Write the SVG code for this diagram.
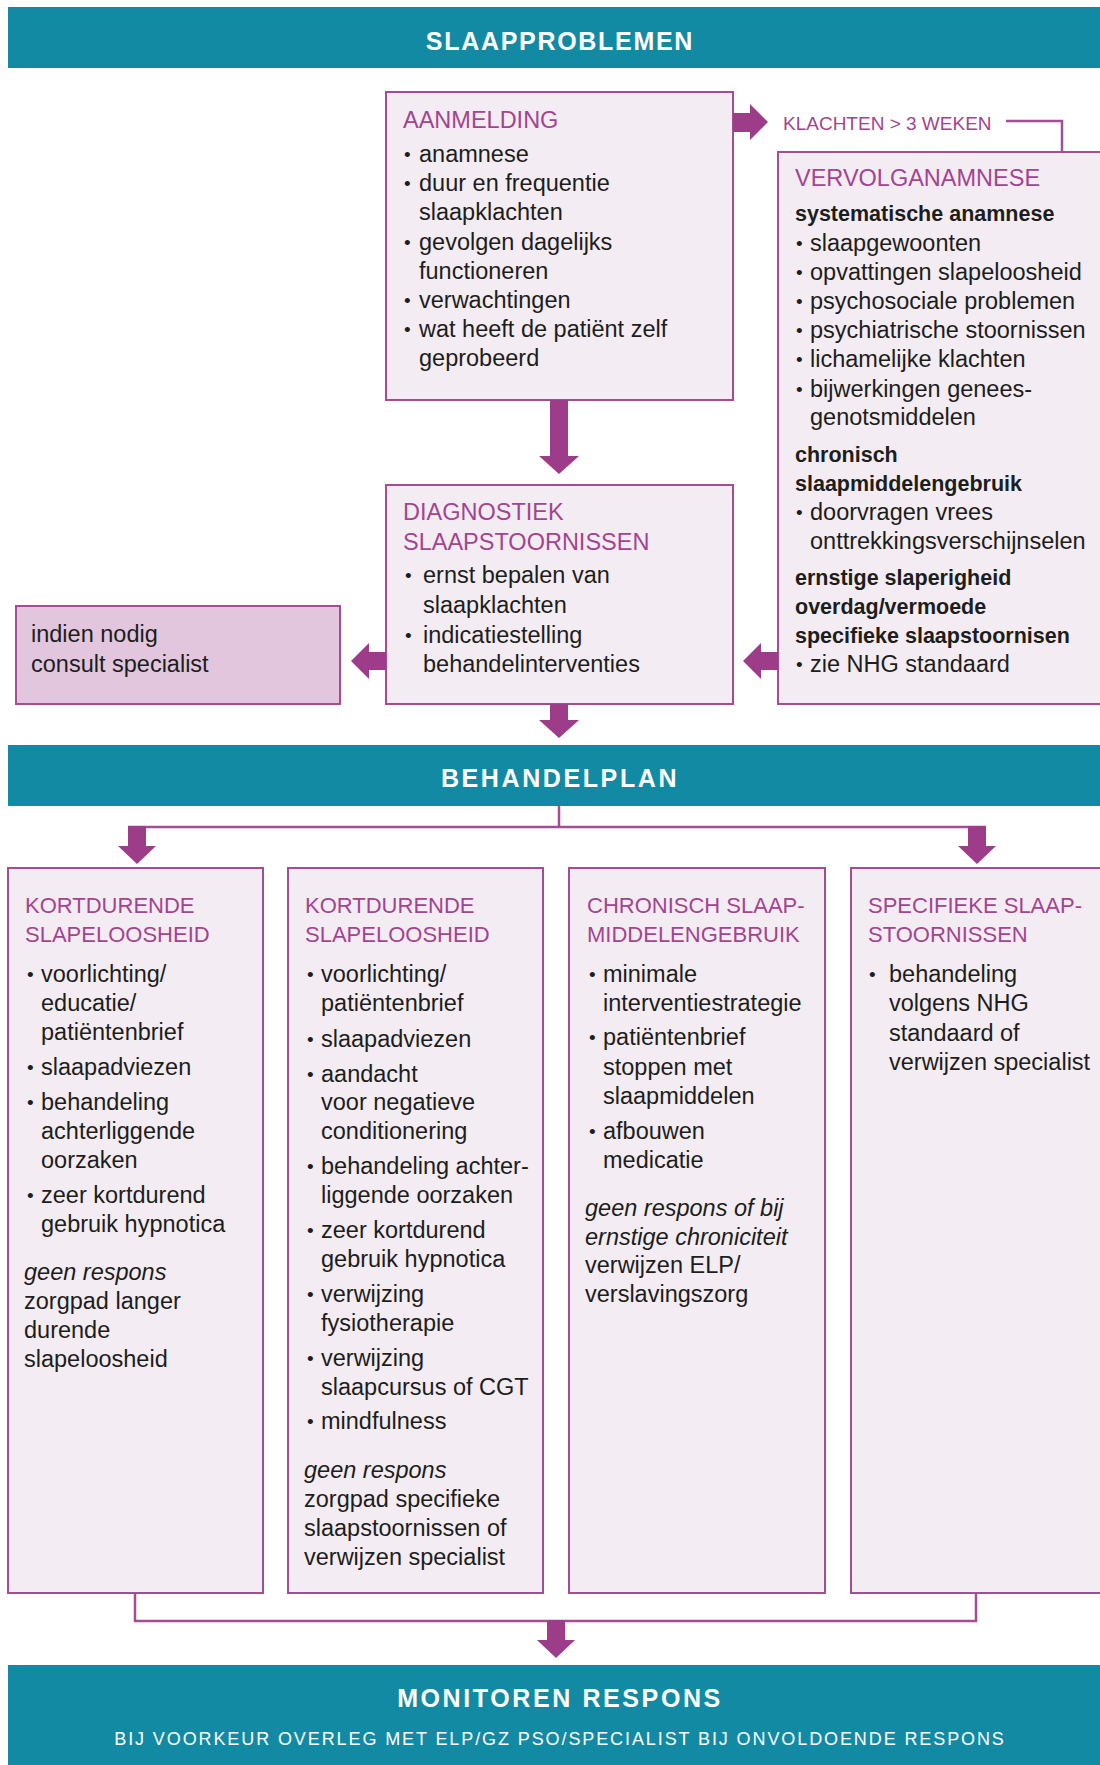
<svg xmlns="http://www.w3.org/2000/svg" width="1100" height="1765" viewBox="0 0 1100 1765">
<style>
text{font-family:"Liberation Sans",Arial,sans-serif;fill:#1d1d1b;font-size:23.5px}
.h{fill:#a3448f;font-size:23.5px}
.hc{fill:#a3448f;font-size:22px}
.b{font-weight:bold;font-size:21.5px}
.i{font-style:italic}
.bu{font-size:19px}
.bar{fill:#138aa3}
.bt{fill:#ffffff;font-size:25px;text-anchor:middle;font-weight:bold}
.bs{fill:#ffffff;font-size:18px;text-anchor:middle}
.box{fill:#f3ecf3;stroke:#a44d94;stroke-width:2}
.box2{fill:#e1c6de;stroke:#a44d94;stroke-width:2}
.arr{fill:#9d3c88}
.ln{stroke:#a44d94;stroke-width:2.5;fill:none}
.kl{fill:#a3448f;font-size:19px}
</style>

<g id="bar-slaapproblemen">
<rect class="bar" x="8" y="7" width="1100" height="61"/>
<text class="bt" x="560" y="50" letter-spacing="1.7">SLAAPPROBLEMEN</text>
</g>

<g id="aanmelding">
<rect class="box" x="386" y="92" width="347" height="308"/>
<text class="h" x="403" y="128">AANMELDING</text>
<text class="bu" x="404" y="161">•</text><text x="419" y="162">anamnese</text>
<text class="bu" x="404" y="190">•</text><text x="419" y="191">duur en frequentie</text>
<text x="419" y="220">slaapklachten</text>
<text class="bu" x="404" y="249">•</text><text x="419" y="250">gevolgen dagelijks</text>
<text x="419" y="279">functioneren</text>
<text class="bu" x="404" y="307">•</text><text x="419" y="308">verwachtingen</text>
<text class="bu" x="404" y="336">•</text><text x="419" y="337">wat heeft de patiënt zelf</text>
<text x="419" y="366">geprobeerd</text>
</g>

<g id="klachten-label">
<text class="kl" x="783" y="130">KLACHTEN &gt; 3 WEKEN</text>
</g>

<g id="vervolganamnese">
<rect class="box" x="778" y="152" width="330" height="552"/>
<text class="h" x="795" y="186">VERVOLGANAMNESE</text>
<text class="b" x="795" y="221">systematische anamnese</text>
<text class="bu" x="796" y="250">•</text><text x="810" y="251">slaapgewoonten</text>
<text class="bu" x="796" y="279">•</text><text x="810" y="280">opvattingen slapeloosheid</text>
<text class="bu" x="796" y="308">•</text><text x="810" y="309">psychosociale problemen</text>
<text class="bu" x="796" y="337">•</text><text x="810" y="338">psychiatrische stoornissen</text>
<text class="bu" x="796" y="366">•</text><text x="810" y="367">lichamelijke klachten</text>
<text class="bu" x="796" y="396">•</text><text x="810" y="397">bijwerkingen genees-</text>
<text x="810" y="425">genotsmiddelen</text>
<text class="b" x="795" y="462">chronisch</text>
<text class="b" x="795" y="491">slaapmiddelengebruik</text>
<text class="bu" x="796" y="519">•</text><text x="810" y="520">doorvragen vrees</text>
<text x="810" y="549">onttrekkingsverschijnselen</text>
<text class="b" x="795" y="585">ernstige slaperigheid</text>
<text class="b" x="795" y="614">overdag/vermoede</text>
<text class="b" x="795" y="643">specifieke slaapstoornisen</text>
<text class="bu" x="796" y="671">•</text><text x="810" y="672">zie NHG standaard</text>
</g>

<g id="diagnostiek">
<rect class="box" x="386" y="485" width="347" height="219"/>
<text class="h" x="403" y="520">DIAGNOSTIEK</text>
<text class="h" x="403" y="550">SLAAPSTOORNISSEN</text>
<text class="bu" x="405" y="582">•</text><text x="423" y="583">ernst bepalen van</text>
<text x="423" y="613">slaapklachten</text>
<text class="bu" x="405" y="642">•</text><text x="423" y="643">indicatiestelling</text>
<text x="423" y="672">behandelinterventies</text>
</g>

<g id="indien-nodig">
<rect class="box2" x="16" y="606" width="324" height="98"/>
<text x="31" y="642">indien nodig</text>
<text x="31" y="672">consult specialist</text>
</g>

<g id="bar-behandelplan">
<rect class="bar" x="8" y="745" width="1100" height="61"/>
<text class="bt" x="560" y="787" letter-spacing="2.6">BEHANDELPLAN</text>
</g>

<g id="col1">
<rect class="box" x="8" y="868" width="255" height="725"/>
<text class="hc" x="25" y="913">KORTDURENDE</text>
<text class="hc" x="25" y="942">SLAPELOOSHEID</text>
<text class="bu" x="27" y="981">•</text><text x="41" y="982">voorlichting/</text>
<text x="41" y="1011">educatie/</text>
<text x="41" y="1040">patiëntenbrief</text>
<text class="bu" x="27" y="1074">•</text><text x="41" y="1075">slaapadviezen</text>
<text class="bu" x="27" y="1109">•</text><text x="41" y="1110">behandeling</text>
<text x="41" y="1139">achterliggende</text>
<text x="41" y="1168">oorzaken</text>
<text class="bu" x="27" y="1202">•</text><text x="41" y="1203">zeer kortdurend</text>
<text x="41" y="1232">gebruik hypnotica</text>
<text class="i" x="24" y="1280">geen respons</text>
<text x="24" y="1309">zorgpad langer</text>
<text x="24" y="1338">durende</text>
<text x="24" y="1367">slapeloosheid</text>
</g>

<g id="col2">
<rect class="box" x="288" y="868" width="255" height="725"/>
<text class="hc" x="305" y="913">KORTDURENDE</text>
<text class="hc" x="305" y="942">SLAPELOOSHEID</text>
<text class="bu" x="307" y="981">•</text><text x="321" y="982">voorlichting/</text>
<text x="321" y="1011">patiëntenbrief</text>
<text class="bu" x="307" y="1046">•</text><text x="321" y="1047">slaapadviezen</text>
<text class="bu" x="307" y="1081">•</text><text x="321" y="1082">aandacht</text>
<text x="321" y="1110">voor negatieve</text>
<text x="321" y="1139">conditionering</text>
<text class="bu" x="307" y="1173">•</text><text x="321" y="1174">behandeling achter-</text>
<text x="321" y="1203">liggende oorzaken</text>
<text class="bu" x="307" y="1237">•</text><text x="321" y="1238">zeer kortdurend</text>
<text x="321" y="1267">gebruik hypnotica</text>
<text class="bu" x="307" y="1301">•</text><text x="321" y="1302">verwijzing</text>
<text x="321" y="1331">fysiotherapie</text>
<text class="bu" x="307" y="1365">•</text><text x="321" y="1366">verwijzing</text>
<text x="321" y="1395">slaapcursus of CGT</text>
<text class="bu" x="307" y="1428">•</text><text x="321" y="1429">mindfulness</text>
<text class="i" x="304" y="1478">geen respons</text>
<text x="304" y="1507">zorgpad specifieke</text>
<text x="304" y="1536">slaapstoornissen of</text>
<text x="304" y="1565">verwijzen specialist</text>
</g>

<g id="col3">
<rect class="box" x="569" y="868" width="256" height="725"/>
<text class="hc" x="587" y="913">CHRONISCH SLAAP-</text>
<text class="hc" x="587" y="942">MIDDELENGEBRUIK</text>
<text class="bu" x="589" y="981">•</text><text x="603" y="982">minimale</text>
<text x="603" y="1011">interventiestrategie</text>
<text class="bu" x="589" y="1044">•</text><text x="603" y="1045">patiëntenbrief</text>
<text x="603" y="1075">stoppen met</text>
<text x="603" y="1104">slaapmiddelen</text>
<text class="bu" x="589" y="1138">•</text><text x="603" y="1139">afbouwen</text>
<text x="603" y="1168">medicatie</text>
<text class="i" x="585" y="1216">geen respons of bij</text>
<text class="i" x="585" y="1245">ernstige chroniciteit</text>
<text x="585" y="1273">verwijzen ELP/</text>
<text x="585" y="1302">verslavingszorg</text>
</g>

<g id="col4">
<rect class="box" x="851" y="868" width="257" height="725"/>
<text class="hc" x="868" y="913">SPECIFIEKE SLAAP-</text>
<text class="hc" x="868" y="942">STOORNISSEN</text>
<text class="bu" x="869" y="981">•</text><text x="889" y="982">behandeling</text>
<text x="889" y="1011">volgens NHG</text>
<text x="889" y="1041">standaard of</text>
<text x="889" y="1070">verwijzen specialist</text>
</g>

<g id="bar-monitoren">
<rect class="bar" x="8" y="1665" width="1100" height="110"/>
<text class="bt" x="560" y="1707" letter-spacing="2.6">MONITOREN RESPONS</text>
<text class="bs" x="560" y="1745" letter-spacing="1.9">BIJ VOORKEUR OVERLEG MET ELP/GZ PSO/SPECIALIST BIJ ONVOLDOENDE RESPONS</text>
</g>

<g id="connectors">
<polygon class="arr" points="733,113 750,113 750,104 768,122 750,140 750,132 733,132"/>
<polyline class="ln" points="1006,121 1062,121 1062,152"/>
<polygon class="arr" points="550,400 568,400 568,456 579,456 559,474 539,456 550,456"/>
<polygon class="arr" points="386,652 369,652 369,643 351,661 369,679 369,670 386,670"/>
<polygon class="arr" points="778,652 761,652 761,643 743,661 761,679 761,670 778,670"/>
<polygon class="arr" points="550,704 568,704 568,720 579,720 559,738 539,720 550,720"/>
<polyline class="ln" points="559,806 559,827"/>
<line class="ln" x1="128" y1="827" x2="986" y2="827"/>
<polygon class="arr" points="128,826 146,826 146,846 156,846 137,864 118,846 128,846"/>
<polygon class="arr" points="968,826 986,826 986,846 996,846 977,864 958,846 968,846"/>
<polyline class="ln" points="135,1593 135,1621 976,1621 976,1593"/>
<polygon class="arr" points="547,1620 565,1620 565,1640 575,1640 556,1658 537,1640 547,1640"/>
</g>
</svg>
